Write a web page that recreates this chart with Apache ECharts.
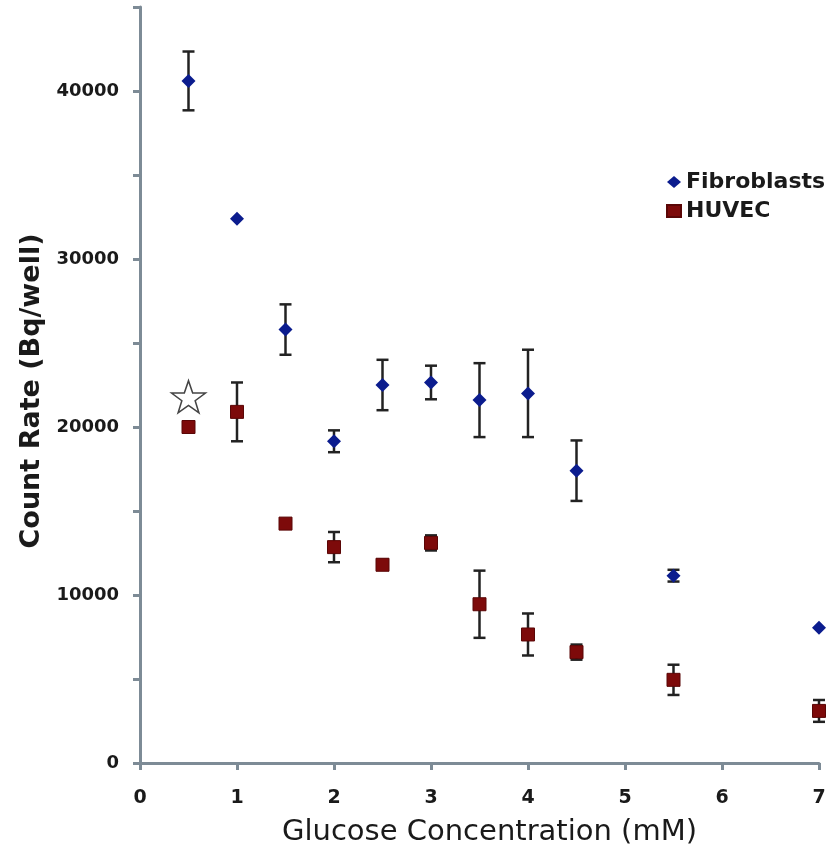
<!DOCTYPE html>
<html>
<head>
<meta charset="utf-8">
<script src="https://cdn.jsdelivr.net/npm/echarts@6/dist/echarts.min.js"></script>
<style>
html,body{margin:0;padding:0;background:#fff;}
#c{width:829px;height:855px;}
</style>
</head>
<body>
<div id="c"></div>
<script>
var glucose = [0.5, 1, 1.5, 2, 2.5, 3, 3.5, 4, 4.5, 5.5, 7];
var fibroblasts = [40600, 32400, 25800, 19150, 22500, 22650, 21600, 22000, 17400, 11150, 8050];
var fibroblastsErr = [1750, 0, 1500, 650, 1500, 1000, 2200, 2600, 1800, 350, 0];
var huvec = [20000, 20900, 14250, 12850, 11800, 13100, 9450, 7650, 6600, 4950, 3100];
var huvecErr = [0, 1750, 0, 900, 300, 450, 2000, 1250, 450, 900, 650];
var starPoint = [[0.5, 21800]];
var xTicks = [0, 1, 2, 3, 4, 5, 6, 7];
var yLabels = [0, 10000, 20000, 30000, 40000];

var AXIS = '#7d8b96';
var TXT = '#1a1a1a';

function pairs(xs, ys) { return xs.map(function (x, i) { return [x, ys[i]]; }); }
function errData(xs, ys, es) {
  var out = [];
  xs.forEach(function (x, i) { if (es[i] > 0) out.push([x, ys[i] - es[i], ys[i] + es[i]]); });
  return out;
}
function errRender(params, api) {
  var x = api.value(0);
  var lo = api.coord([x, api.value(1)]);
  var hi = api.coord([x, api.value(2)]);
  var hw = 6;
  var st = { stroke: '#222', lineWidth: 2.5 };
  return {
    type: 'group',
    children: [
      { type: 'line', shape: { x1: lo[0], y1: lo[1], x2: hi[0], y2: hi[1] }, style: st },
      { type: 'line', shape: { x1: lo[0] - hw, y1: lo[1], x2: lo[0] + hw, y2: lo[1] }, style: st },
      { type: 'line', shape: { x1: hi[0] - hw, y1: hi[1], x2: hi[0] + hw, y2: hi[1] }, style: st }
    ]
  };
}

var chart = echarts.init(document.getElementById('c'));
chart.setOption({
  backgroundColor: '#ffffff',
  animation: false,
  grid: { left: 140, right: 10, top: 7, bottom: 92 },
  legend: {
    data: [
      { name: 'Fibroblasts', icon: 'diamond' },
      { name: 'HUVEC', icon: 'rect' }
    ],
    orient: 'vertical',
    left: 661,
    top: 166,
    itemWidth: 14,
    itemHeight: 12,
    itemGap: 7,
    textStyle: { fontFamily: 'DejaVu Sans', fontWeight: 'bold', fontSize: 22, color: TXT }
  },
  xAxis: {
    type: 'value',
    min: 0, max: 7, interval: 1,
    name: 'Glucose Concentration (mM)',
    nameLocation: 'middle',
    nameGap: 55,
    nameTextStyle: { fontFamily: 'DejaVu Sans', fontSize: 29, color: TXT, padding: [0, 0, 0, 20] },
    axisLine: { show: true, onZero: false, lineStyle: { color: AXIS, width: 3 } },
    axisTick: { show: true, length: 7, lineStyle: { color: AXIS, width: 3 } },
    axisLabel: {
      margin: 26, fontFamily: 'DejaVu Sans', fontWeight: 'bold', fontSize: 19, color: TXT,
      formatter: function (v) { return xTicks.indexOf(v) >= 0 ? String(v) : ''; }
    },
    splitLine: { show: false }
  },
  yAxis: {
    type: 'value',
    min: 0, max: 45000, interval: 5000,
    name: 'Count Rate (Bq/well)',
    nameLocation: 'middle',
    nameGap: 95,
    nameTextStyle: { fontFamily: 'DejaVu Sans', fontWeight: 'bold', fontSize: 27, color: TXT, padding: [0, 12, 0, 0] },
    axisLine: { show: true, lineStyle: { color: AXIS, width: 3 } },
    axisTick: { show: true, length: 7, lineStyle: { color: AXIS, width: 3 } },
    axisLabel: {
      margin: 21, fontFamily: 'DejaVu Sans', fontWeight: 'bold', fontSize: 18, color: TXT,
      formatter: function (v) { return yLabels.indexOf(v) >= 0 ? String(v) : ''; }
    },
    splitLine: { show: false }
  },
  series: [
    {
      name: 'FibErr', type: 'custom', renderItem: errRender, clip: false, z: 1,
      data: errData(glucose, fibroblasts, fibroblastsErr), encode: { x: 0, y: [1, 2] }
    },
    {
      name: 'HuvecErr', type: 'custom', renderItem: errRender, clip: false, z: 1,
      data: errData(glucose, huvec, huvecErr), encode: { x: 0, y: [1, 2] }
    },
    {
      name: 'Fibroblasts', type: 'scatter', symbol: 'diamond', symbolSize: [14, 14], z: 3, clip: false,
      itemStyle: { color: '#0b1c8e', opacity: 1 },
      data: pairs(glucose, fibroblasts)
    },
    {
      name: 'HUVEC', type: 'scatter', symbol: 'rect', symbolSize: [13, 13], z: 3, clip: false,
      itemStyle: { color: '#7d0a0a', borderColor: '#5a0606', borderWidth: 1, opacity: 1 },
      data: pairs(glucose, huvec)
    },
    {
      name: 'star', type: 'scatter', z: 3, clip: false,
      symbol: 'path://M50,0 L61.8,35 L98,35 L68.8,56.6 L79.4,91 L50,70 L20.6,91 L31.2,56.6 L2,35 L38.2,35 Z',
      symbolSize: [34, 32],
      itemStyle: { color: '#ffffff', borderColor: '#444', borderWidth: 1.5, opacity: 1 },
      data: starPoint
    }
  ]
});
</script>
</body>
</html>
